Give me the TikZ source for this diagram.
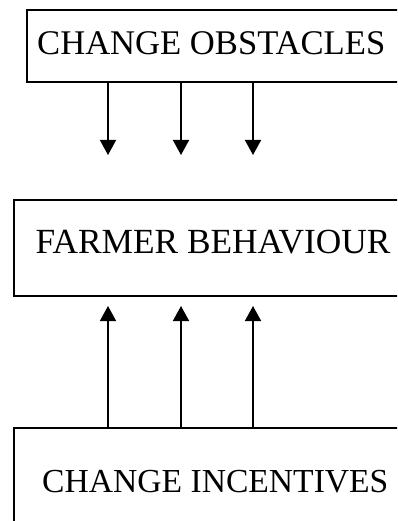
\documentclass[tikz,border=0pt]{standalone}
\usepackage{fontspec}
\setmainfont{Liberation Serif}
\usetikzlibrary{arrows.meta}
\begin{document}
\begin{tikzpicture}[x=1pt,y=-1pt,
  boxstyle/.style={draw,line width=1.6pt,inner sep=0pt,rectangle},
  lbl/.style={inner sep=0pt,anchor=base west},
  arr/.style={line width=1.6pt,-{Triangle[width=16pt,length=15pt]}}]
\useasboundingbox (0,0) rectangle (397,521);
\clip (0,0) rectangle (397,521);
\node[boxstyle,minimum width=394pt,minimum height=72pt,anchor=north west] (top) at (26,9) {};
\node[boxstyle,minimum width=407pt,minimum height=96pt,anchor=north west] (mid) at (13,199) {};
\node[boxstyle,minimum width=407pt,minimum height=120pt,anchor=north west] (bot) at (13,427) {};
\node[lbl,font=\fontsize{34.6}{40}\selectfont] (ttop) at (37,55) {CHANGE OBSTACLES};
\node[lbl,font=\fontsize{35.3}{40}\selectfont] (tmid) at (35.5,253) {FARMER BEHAVIOUR};
\node[lbl,font=\fontsize{33.6}{40}\selectfont] (tbot) at (42,492) {CHANGE INCENTIVES};
\coordinate (d1) at (108,155);
\coordinate (d2) at (181,155);
\coordinate (d3) at (253,155);
\coordinate (u1) at (108,306);
\coordinate (u2) at (181,306);
\coordinate (u3) at (253,306);
\foreach \c in {d1,d2,d3}{\draw[arr] (\c |- top.south) -- (\c);}
\foreach \c in {u1,u2,u3}{\draw[arr] (\c |- bot.north) -- (\c);}
\end{tikzpicture}
\end{document}
